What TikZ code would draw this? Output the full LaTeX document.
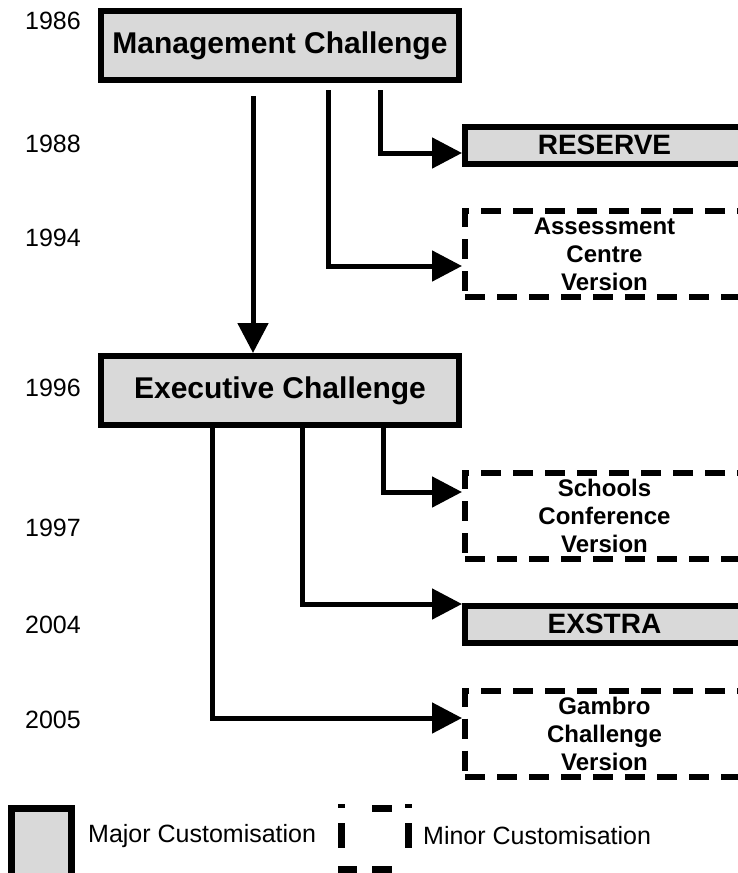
\documentclass[tikz,border=0pt]{standalone}
\usepackage{fontspec}
\setmainfont{Liberation Sans}
\usetikzlibrary{arrows.meta}
\definecolor{boxgray}{RGB}{217,217,217}
\begin{document}
\begin{tikzpicture}[x=1pt,y=-1pt,
  bigbox/.style={draw=black, line width=6pt, fill=boxgray, minimum width=358pt, minimum height=69pt, inner sep=0pt, font=\fontsize{30}{36}\selectfont\bfseries},
  majbox/.style={draw=black, line width=6pt, fill=boxgray, minimum width=279pt, minimum height=37pt, inner sep=0pt, font=\fontsize{28}{30}\selectfont\bfseries},
  minbox/.style={draw=black, line width=6pt, dash pattern=on 20pt off 12pt, minimum width=279pt, minimum height=86pt, inner sep=0pt, align=center, font=\fontsize{24}{28}\selectfont\bfseries},
  yearlbl/.style={inner sep=0pt, font=\fontsize{25}{28}\selectfont},
  legtext/.style={inner sep=0pt, anchor=west, font=\fontsize{25}{28}\selectfont},
  legdash/.style={line width=7pt},
  conn/.style={line width=5pt, -{Triangle[length=30pt,width=30pt]}}]
\useasboundingbox (0,0) rectangle (738,873);
\clip (0,0) rectangle (738,873);

% main boxes
\node[bigbox] (mc) at (280,45.5) {Management Challenge};
\node[bigbox] (ec) at (280,390.5) {Executive Challenge};

% derived versions
\node[majbox] (res) at (604.5,145) {RESERVE};
\node[minbox] (acv) at (604.5,254) {Assessment\\Centre\\Version};
\node[minbox] (scv) at (604.5,516) {Schools\\Conference\\Version};
\node[majbox] (ex) at (604.5,624) {EXSTRA};
\node[minbox] (gcv) at (604.5,733.5) {Gambro\\Challenge\\Version};

% years
\node[yearlbl] (y86) at (53,21) {1986};
\node[yearlbl] (y88) at (53,144) {1988};
\node[yearlbl] (y94) at (53,238) {1994};
\node[yearlbl] (y96) at (53,388) {1996};
\node[yearlbl] (y97) at (53,528) {1997};
\node[yearlbl] (y04) at (53,625) {2004};
\node[yearlbl] (y05) at (53,720) {2005};

% connectors
\draw[conn] ([xshift=-27pt,yshift=-13pt]mc.south) -- ([xshift=-27pt]ec.north);
\draw[conn] ([xshift=100pt,yshift=-7pt]mc.south) |- ([yshift=-8pt]res.west);
\draw[conn] ([xshift=48pt,yshift=-7pt]mc.south) |- ([yshift=-12pt]acv.west);
\draw[conn] ([xshift=103pt]ec.south) |- ([yshift=24pt]scv.west);
\draw[conn] ([xshift=22pt]ec.south) |- ([yshift=20pt]ex.west);
\draw[conn] ([xshift=-68pt]ec.south) |- ([yshift=15.5pt]gcv.west);

% legend
\node[draw=black, line width=7pt, fill=boxgray, minimum width=60pt, minimum height=72pt, inner sep=0pt] (lmaj) at (41.5,844.5) {};
\node[legtext] (lmajt) at (88,836) {Major Customisation};
\node[minimum width=67pt, minimum height=60pt, inner sep=0pt] (lmin) at (375,838) {};
\draw[legdash] (341.5,823) -- (341.5,848);
\draw[legdash] (408.5,823) -- (408.5,848);
\draw[legdash] (372,808) -- (392,808);
\draw[line width=4pt] (338,806) -- (345,806);
\draw[line width=4pt] (405,806) -- (412,806);
\draw[legdash] (338,869) -- (357,869);
\draw[legdash] (372,869) -- (392,869);
\node[legtext] (lmint) at (423,836) {Minor Customisation};
\end{tikzpicture}
\end{document}
